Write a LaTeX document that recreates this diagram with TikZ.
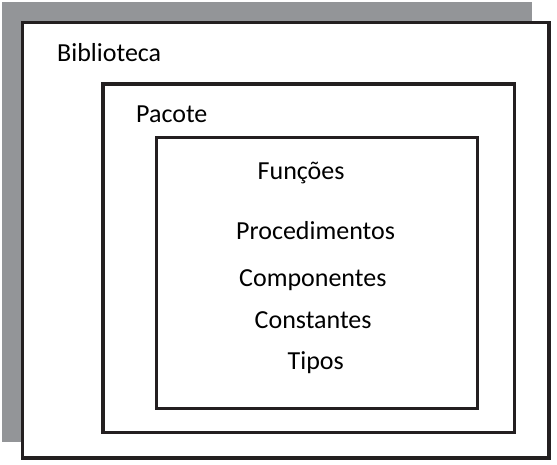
\documentclass[tikz,border=0pt]{standalone}
\usepackage{fontspec}
\setmainfont{Carlito}
\definecolor{shadowgray}{HTML}{939598}
\definecolor{linedark}{HTML}{231F20}
\begin{document}
\begin{tikzpicture}[x=1pt,y=-1pt,
  lbl/.style={anchor=base west,inner sep=0pt,font=\fontsize{26}{31}\selectfont},
  boxthick/.style={draw=linedark,line width=3.8pt,fill=white},
  boxmid/.style={draw=linedark,line width=3.4pt},
  boxthin/.style={draw=linedark,line width=3pt}]
\useasboundingbox (0,0) rectangle (557,465);
\fill[shadowgray] (2,2) rectangle (532,442);
\path[boxthick] (22.5,22.5) rectangle (548.7,458.3);
\path[boxmid] (103,84) rectangle (514.7,432.5);
\path[boxthin] (156,138) rectangle (477,408);
\node[lbl] (bib) at (57,62) {Biblioteca};
\node[lbl] (pac) at (136,123) {Pacote};
\node[lbl] (fun) at (257.5,180) {Funções};
\node[lbl] (proc) at (236,240) {Procedimentos};
\node[lbl] (comp) at (239,287) {Componentes};
\node[lbl] (cons) at (254.5,328) {Constantes};
\node[lbl] (tip) at (287.5,369) {Tipos};
\end{tikzpicture}
\end{document}
